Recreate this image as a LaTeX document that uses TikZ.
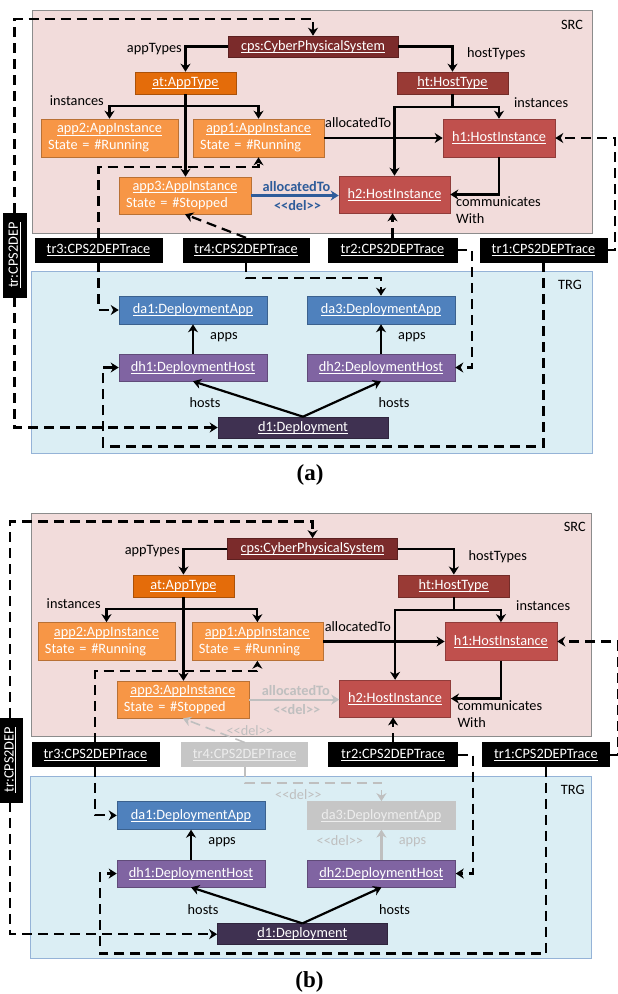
\documentclass[tikz,border=0pt]{standalone}
\usepackage{fontspec}
\newfontfamily\objfont{Carlito}
\newfontfamily\capfont{Liberation Serif}
\usepackage{graphicx}
\usetikzlibrary{arrows.meta,calc}

% underlined object name with a thin rule a little below the baseline
\newcommand\objname[1]{\setbox0\hbox{#1}\rlap{\rule[-2.4pt]{\wd0}{0.8pt}}\box0}

\definecolor{srcfill}{HTML}{F2DCDB}
\definecolor{srcline}{HTML}{8C8C8C}
\definecolor{trgfill}{HTML}{DBEEF4}
\definecolor{trgline}{HTML}{95B3D7}
\definecolor{cpsred}{HTML}{7B2B2B}
\definecolor{htred}{HTML}{993A35}
\definecolor{hred}{HTML}{C0504D}
\definecolor{atorange}{HTML}{E46C0A}
\definecolor{apporange}{HTML}{F79646}
\definecolor{dablue}{HTML}{4F81BD}
\definecolor{dhpurple}{HTML}{8064A2}
\definecolor{dpurple}{HTML}{3F3151}
\definecolor{linkblue}{HTML}{2E5C9A}
\definecolor{delgray}{HTML}{BFBFBF}
\definecolor{delfill}{HTML}{C6C6C6}
\definecolor{deltext}{HTML}{EDEDED}

\newif\ifdelpanel

\tikzset{
  areabox/.style={inner sep=0pt, line width=0.8pt},
  objbox/.style={fill=#1, draw=#1!75!black, line width=0.6pt, text=white, inner sep=0pt},
  tracebox/.style={fill=black, draw=black, text=white, inner sep=0pt, minimum height=24pt},
  deltrace/.style={fill=delfill, draw=delfill, text=deltext, inner sep=0pt, minimum height=24pt},
  lbl/.style={inner sep=0pt, text=black},
  conn/.style={line width=2.2pt, -{Stealth[length=8pt,width=10pt,inset=2.5pt]}},
  solidlink/.style={conn, draw=black},
  trlink/.style={conn, draw=black, dash pattern=on 10pt off 6pt},
  applines/.style={text width=#1, align=left},
}

% One panel of the example: source model, trace objects and target model
\newcommand\drawpanel[1]{%
  % model areas
  \node[areabox, fill=srcfill, draw=srcline, minimum width=560pt, minimum height=223pt] (src) at (312,121.5) {};
  \node[lbl] (srcname) at (572,25) {SRC};
  \node[areabox, fill=trgfill, draw=trgline, minimum width=561pt, minimum height=182pt] (trg) at (311.5,362) {};
  \node[lbl] (trgname) at (570,285) {TRG};
  % source objects
  \node[objbox=cpsred, minimum width=170pt, minimum height=21pt] (cps) at (313,46.5) {\objname{cps:CyberPhysicalSystem}};
  \node[objbox=atorange, minimum width=101pt, minimum height=22pt] (at) at (185.5,83) {\objname{at:AppType}};
  \node[objbox=htred, minimum width=111pt, minimum height=22pt] (ht) at (452.5,83) {\objname{ht:HostType}};
  \node[objbox=apporange, minimum width=137pt, minimum height=38pt, applines=123pt] (app2) at (109.5,138)
    {\noindent\makebox[\hsize]{\objname{app2:AppInstance}}\\State = \#Running};
  \node[objbox=apporange, minimum width=131pt, minimum height=38pt, applines=117pt] (app1) at (258.5,138)
    {\noindent\makebox[\hsize]{\objname{app1:AppInstance}}\\State = \#Running};
  \node[objbox=apporange, minimum width=132pt, minimum height=37pt, applines=118pt] (app3) at (185,195.5)
    {\noindent\makebox[\hsize]{\objname{app3:AppInstance}}\\State = \#Stopped};
  \node[objbox=hred, minimum width=112pt, minimum height=38pt] (h1) at (499,138) {\objname{h1:HostInstance}};
  \node[objbox=hred, minimum width=111pt, minimum height=37pt] (h2) at (394.5,194.5) {\objname{h2:HostInstance}};
  % trace objects
  \node[tracebox, minimum width=127pt] (tr3) at (98.5,250) {\objname{tr3:CPS2DEPTrace}};
  \node[tr4box, minimum width=126pt] (tr4) at (246,250) {\objname{tr4:CPS2DEPTrace}};
  \node[tracebox, minimum width=129pt] (tr2) at (392.5,250) {\objname{tr2:CPS2DEPTrace}};
  \node[tracebox, minimum width=127pt] (tr1) at (543.5,250) {\objname{tr1:CPS2DEPTrace}};
  \node[tracebox, minimum width=23pt, minimum height=84pt] (tr) at (14.5,255) {\rotatebox{90}{\objname{tr:CPS2DEP}}};
  % target objects
  \node[objbox=dablue, minimum width=148pt, minimum height=28pt] (da1) at (193,310) {\objname{da1:DeploymentApp}};
  \node[da3box, minimum width=148pt, minimum height=28pt] (da3) at (381,310) {\objname{da3:DeploymentApp}};
  \node[objbox=dhpurple, minimum width=148pt, minimum height=27pt] (dh1) at (193,367.5) {\objname{dh1:DeploymentHost}};
  \node[objbox=dhpurple, minimum width=148pt, minimum height=27pt] (dh2) at (381,367.5) {\objname{dh2:DeploymentHost}};
  \node[objbox=dpurple, minimum width=170pt, minimum height=21pt] (d1) at (303,427.5) {\objname{d1:Deployment}};
  % source references
  \draw[solidlink] (cps.west) -| (at.north);
  \node[lbl, anchor=east] (lapptypes) at (182,49) {appTypes};
  \draw[solidlink] (cps.east) -| (ht.north);
  \node[lbl, anchor=west] (lhosttypes) at (467,54) {hostTypes};
  \draw[solidlink] (at.south) -- ++(0,12) -| (app2.north);
  \draw[solidlink] (at.south) -- ++(0,12) -| (app1.north);
  \draw[solidlink] (at.south) -- (at.south |- app3.north);
  \node[lbl, anchor=east] (lappinst) at (104,101) {instances};
  \draw[solidlink] (ht.south) -- ++(0,13) -| (h1.north);
  \draw[solidlink] (ht.south) -- ++(0,13) -| (h2.north);
  \node[lbl, anchor=west] (lhostinst) at (514,103) {instances};
  \draw[solidlink] (app1.east) -- (h1.west);
  \node[lbl, anchor=west] (lalloc) at (325,123) {allocatedTo};
  \draw[solidlink] (h1.south) |- (h2.east);
  \node[lbl, anchor=north west, align=left] (lcomm) at (456,196) {communicates\\With};
  \draw[alloclink] (app3.east) -- (app3.east -| h2.west);
  \node[alloctext] (lalloc3) at (296.5,187) {\bfseries allocatedTo};
  \node[alloctext] (ldel3) at (297.5,205.5) {\bfseries <<del>>};
  % trace links
  \draw[trlink] (tr.north) -- ++(0,-194) -| (cps.north);
  \draw[trlink] (tr.south) |- (d1.west);
  \draw[trlink] (tr3.north) -- ++(0,-71) -| (app1.south);
  \draw[trlink] (tr3.south) |- (da1.west);
  \draw[tr4link] (tr4.north) -- (app3.south);
  \draw[tr4link] (tr4.south) -- ++(0,16) -| (da3.north);
  \draw[trlink] (tr2.north) -- (tr2.north |- h2.south);
  \draw[trlink] (tr2.east) -- ++(15,0) |- (dh2.east);
  \draw[trlink] (tr1.east) -- ++(8,0) |- (h1.east);
  \coordinate (tr1turn) at (103,446.5);
  \draw[trlink] (tr1.south) |- (tr1turn) |- (dh1.west);
  % target references
  \draw[solidlink] (dh1.north) -- (da1.south);
  \node[lbl, anchor=west] (lapps1) at (210,337) {apps};
  \draw[da3link] (dh2.north) -- (da3.south);
  \node[da3lbl, anchor=west] (lapps2) at (398,337) {apps};
  \draw[solidlink] (d1.north) -- (dh1.south);
  \node[lbl] (lhosts1) at (205,403) {hosts};
  \draw[solidlink] (d1.north) -- (dh2.south);
  \node[lbl] (lhosts2) at (394,403) {hosts};
  \ifdelpanel
    \node[da3lbl] (ldeltr4a) at (251,226) {<<del>>};
    \node[da3lbl] (ldeltr4b) at (299,289) {<<del>>};
    \node[da3lbl] (ldelapps) at (340,335) {<<del>>};
  \fi
  % caption
  \node[lbl, font=\capfont\bfseries\fontsize{23pt}{24pt}\selectfont] (caption) at (310,475) {(#1)};
}

\begin{document}
\begin{tikzpicture}[x=1pt, y=-1pt, font=\objfont\fontsize{14.3pt}{17pt}\selectfont]
  \useasboundingbox[fill=white] (0,0) rectangle (618,994);
  \begin{scope}[name prefix=pa-,
      alloclink/.style={conn, draw=linkblue},
      alloctext/.style={lbl, text=linkblue},
      tr4box/.style={tracebox},
      tr4link/.style={trlink},
      da3box/.style={objbox=dablue},
      da3link/.style={solidlink},
      da3lbl/.style={lbl}]
    \delpanelfalse
    \drawpanel{a}
  \end{scope}
  \begin{scope}[name prefix=pb-, cm={1.0125,0,0,1.011,(-4.4,501.9)},
      alloclink/.style={conn, draw=delgray},
      alloctext/.style={lbl, text=delgray},
      tr4box/.style={deltrace},
      tr4link/.style={trlink, draw=delgray, line width=1.6pt},
      da3box/.style={fill=delfill, draw=delfill, text=deltext, inner sep=0pt},
      da3link/.style={conn, draw=delgray},
      da3lbl/.style={lbl, text=delgray}]
    \delpaneltrue
    \drawpanel{b}
  \end{scope}
\end{tikzpicture}
\end{document}
